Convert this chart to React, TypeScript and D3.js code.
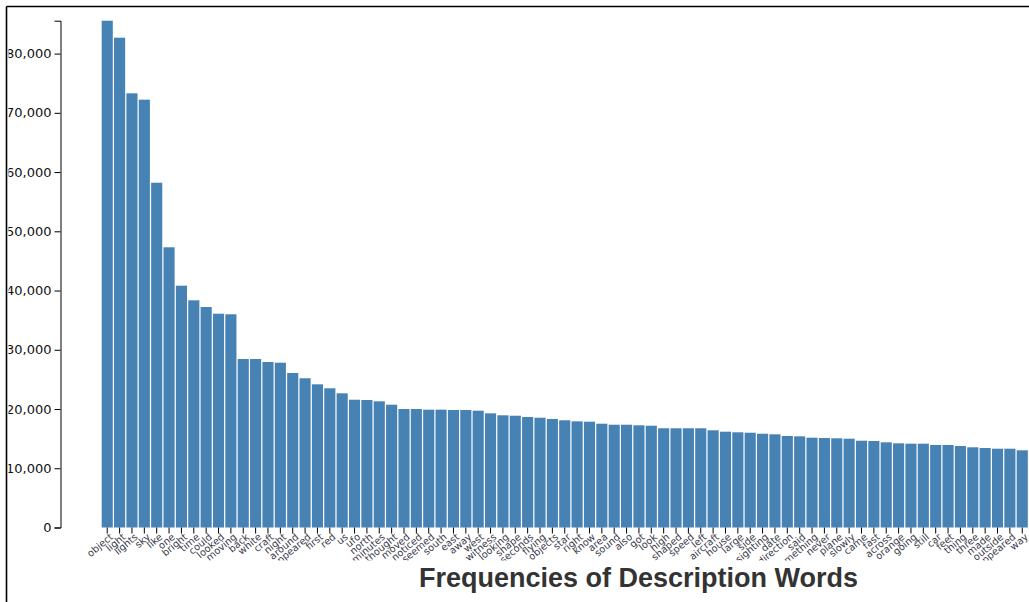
import React, { useEffect, useRef } from "react";
import * as d3 from "d3";

const words: string[] = [
  "object", "light", "lights", "sky", "like", "one", "bright", "time", "could", "looked",
  "moving", "back", "white", "craft", "night", "around", "appeared", "first", "red", "us",
  "ufo", "north", "minutes", "thought", "moved", "noticed", "seemed", "south", "east", "away",
  "west", "witness", "looking", "shape", "seconds", "flying", "objects", "star", "right", "know",
  "area", "sound", "also", "got", "look", "high", "shaped", "speed", "left", "aircraft",
  "house", "large", "side", "sighting", "date", "direction", "said", "something", "never", "plane",
  "slowly", "came", "fast", "across", "orange", "going", "still", "car", "feet", "thing",
  "three", "made", "outside", "disappeared", "way",
];

const counts: number[] = [
  85550, 82680, 73290, 72220, 58200, 47300, 40820, 38350, 37220, 36090,
  35990, 28440, 28440, 27940, 27820, 26080, 25190, 24170, 23500, 22650,
  21570, 21520, 21300, 20730, 20000, 20000, 19890, 19890, 19830, 19830,
  19720, 19270, 18940, 18870, 18650, 18530, 18320, 18100, 17920, 17860,
  17520, 17350, 17350, 17250, 17180, 16750, 16750, 16750, 16750, 16410,
  16170, 16070, 16000, 15830, 15730, 15450, 15390, 15160, 15110, 15060,
  14990, 14650, 14600, 14380, 14210, 14150, 14150, 13930, 13930, 13760,
  13540, 13420, 13300, 13300, 13030,
];

const yTicks: number[] = [0, 10000, 20000, 30000, 40000, 50000, 60000, 70000, 80000];

const title = "Frequencies of Description Words";

export default function App() {
  const ref = useRef<SVGSVGElement>(null);

  useEffect(() => {
    const svg = d3.select(ref.current);
    svg.selectAll("*").remove();

    const W = 1029;
    const H = 602;
    const frameX = 6.5;
    const frameY = 6.5;
    const axisX = 60.5;
    const baseY = 527.5;
    const topY = 20.7;
    const chartBottom = 560.5;

    const defs = svg.append("defs");
    defs.append("clipPath")
      .attr("id", "chartClip")
      .append("rect")
      .attr("x", 8.5)
      .attr("y", frameY + 1)
      .attr("width", W)
      .attr("height", chartBottom - frameY - 1);
    defs.append("clipPath")
      .attr("id", "frameClip")
      .append("rect")
      .attr("x", frameX + 1)
      .attr("y", frameY + 1)
      .attr("width", W)
      .attr("height", H);

    const g = svg.append("g").attr("clip-path", "url(#chartClip)");

    const step = 12.365;
    const r0 = 101.67 - 0.1 * step;
    const x = d3.scaleBand<string>()
      .domain(words)
      .range([r0, r0 + 75.1 * step])
      .paddingInner(0.1)
      .paddingOuter(0.1);

    const y = d3.scaleLinear()
      .domain([0, d3.max(counts) as number])
      .range([baseY, topY]);

    g.append("g")
      .selectAll("rect")
      .data(words)
      .join("rect")
      .attr("x", (d) => x(d) as number)
      .attr("y", (d, i) => y(counts[i]))
      .attr("width", x.bandwidth())
      .attr("height", (d, i) => baseY - y(counts[i]))
      .attr("fill", "#4682b4");

    // y axis
    const yAxis = g.append("g")
      .attr("transform", `translate(${axisX},0)`)
      .call(d3.axisLeft(y).tickValues(yTicks).tickFormat(d3.format(",")));
    yAxis.attr("font-family", "'DejaVu Sans', sans-serif").attr("font-size", 13);
    yAxis.selectAll("text").attr("fill", "#111");

    // x axis
    const xAxis = g.append("g")
      .attr("transform", `translate(0,${baseY})`)
      .call(d3.axisBottom(x).tickSizeOuter(0));
    xAxis.select(".domain").remove();
    xAxis.attr("font-family", "'DejaVu Sans', sans-serif").attr("font-size", 9.8);
    xAxis.selectAll("text")
      .attr("y", 0)
      .attr("x", 0)
      .attr("dy", 0)
      .style("text-anchor", "end")
      .attr("fill", "#3a3a4a")
      .attr("transform", "translate(6.5,10.5) rotate(-40)");

    // title
    svg.append("g").attr("clip-path", "url(#frameClip)")
      .append("text")
      .attr("x", 638.5)
      .attr("y", 587)
      .attr("text-anchor", "middle")
      .attr("font-family", "'Liberation Sans', Arial, sans-serif")
      .attr("font-weight", "bold")
      .attr("font-size", 27)
      .attr("fill", "#333")
      .text(title);

    // frame
    svg.append("line")
      .attr("x1", frameX).attr("x2", W)
      .attr("y1", frameY).attr("y2", frameY)
      .attr("stroke", "#000").attr("stroke-width", 1.6);
    svg.append("line")
      .attr("x1", frameX).attr("x2", frameX)
      .attr("y1", frameY).attr("y2", H)
      .attr("stroke", "#000").attr("stroke-width", 1.6);
  }, []);

  return (
    <div style={{ position: "fixed", left: 0, top: 0, width: 1029, height: 602, overflow: "hidden", background: "#fff" }}>
      <svg ref={ref} width={1029} height={602} style={{ display: "block" }} />
    </div>
  );
}
